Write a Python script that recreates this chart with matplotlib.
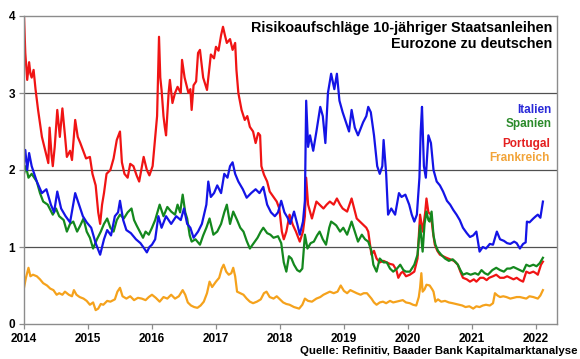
import matplotlib
matplotlib.use("Agg")
import matplotlib.pyplot as plt
import numpy as np

plt.rcParams['font.family'] = ['Liberation Sans', 'DejaVu Sans']
plt.rcParams['font.weight'] = 'bold'

# spread over german bunds, (decimal year, percentage points)
italien = [
    (2014.00, 2.10), (2014.02, 2.26), (2014.05, 2.00), (2014.08, 2.22), (2014.12, 2.05),
    (2014.20, 1.85), (2014.28, 1.70), (2014.35, 1.75), (2014.42, 1.55), (2014.47, 1.45),
    (2014.52, 1.72), (2014.58, 1.50), (2014.65, 1.40), (2014.72, 1.32), (2014.80, 1.70),
    (2014.86, 1.55), (2014.92, 1.40), (2014.98, 1.32), (2015.05, 1.25), (2015.12, 1.05),
    (2015.19, 0.90), (2015.25, 1.10), (2015.30, 1.22), (2015.36, 1.15), (2015.42, 1.40),
    (2015.47, 1.45), (2015.50, 1.60), (2015.55, 1.35), (2015.60, 1.22), (2015.67, 1.18),
    (2015.75, 1.10), (2015.82, 1.05), (2015.88, 0.98), (2015.92, 0.93), (2015.96, 1.00),
    (2016.00, 1.03), (2016.05, 1.10), (2016.10, 1.40), (2016.15, 1.25), (2016.22, 1.40),
    (2016.30, 1.30), (2016.38, 1.40), (2016.45, 1.35), (2016.50, 1.50), (2016.55, 1.30),
    (2016.60, 1.25), (2016.65, 1.12), (2016.72, 1.20), (2016.78, 1.30), (2016.85, 1.55),
    (2016.88, 1.85), (2016.92, 1.65), (2016.97, 1.70), (2017.02, 1.80), (2017.08, 1.70),
    (2017.13, 1.95), (2017.18, 1.90), (2017.22, 2.05), (2017.26, 2.10), (2017.30, 1.95),
    (2017.35, 1.85), (2017.42, 1.75), (2017.48, 1.64), (2017.55, 1.70), (2017.62, 1.75),
    (2017.68, 1.70), (2017.74, 1.78), (2017.80, 1.55), (2017.86, 1.45), (2017.92, 1.40),
    (2017.97, 1.45), (2018.02, 1.60), (2018.07, 1.45), (2018.12, 1.38), (2018.16, 1.30),
    (2018.22, 1.46), (2018.27, 1.30), (2018.31, 1.16), (2018.36, 1.33), (2018.39, 1.60),
    (2018.41, 2.90), (2018.44, 2.30), (2018.47, 2.45), (2018.52, 2.25), (2018.57, 2.50),
    (2018.63, 2.82), (2018.67, 2.70), (2018.71, 2.35), (2018.75, 3.00), (2018.80, 3.25),
    (2018.85, 3.05), (2018.89, 3.25), (2018.93, 2.90), (2018.98, 2.75), (2019.04, 2.60),
    (2019.08, 2.50), (2019.12, 2.78), (2019.17, 2.55), (2019.22, 2.45), (2019.30, 2.62),
    (2019.35, 2.70), (2019.38, 2.82), (2019.42, 2.75), (2019.47, 2.45), (2019.52, 2.05),
    (2019.56, 1.95), (2019.60, 2.05), (2019.62, 2.39), (2019.66, 1.95), (2019.69, 1.42),
    (2019.74, 1.50), (2019.80, 1.42), (2019.86, 1.70), (2019.90, 1.65), (2019.96, 1.68),
    (2020.02, 1.55), (2020.06, 1.42), (2020.10, 1.33), (2020.14, 1.42), (2020.18, 1.90),
    (2020.20, 2.50), (2020.22, 2.82), (2020.25, 2.05), (2020.28, 1.90), (2020.32, 2.45),
    (2020.36, 2.35), (2020.40, 2.00), (2020.45, 1.85), (2020.50, 1.80), (2020.55, 1.72),
    (2020.61, 1.60), (2020.66, 1.55), (2020.71, 1.48), (2020.76, 1.42), (2020.81, 1.35),
    (2020.86, 1.25), (2020.92, 1.18), (2020.97, 1.13), (2021.02, 1.15), (2021.07, 1.20),
    (2021.12, 0.94), (2021.17, 1.00), (2021.22, 0.98), (2021.28, 1.04), (2021.33, 1.03),
    (2021.39, 1.20), (2021.44, 1.10), (2021.50, 1.08), (2021.55, 1.05), (2021.60, 1.04),
    (2021.66, 1.07), (2021.70, 1.05), (2021.75, 0.98), (2021.80, 1.04), (2021.84, 1.06),
    (2021.86, 1.33), (2021.90, 1.32), (2021.96, 1.37), (2022.00, 1.40), (2022.03, 1.42),
    (2022.07, 1.38), (2022.11, 1.59),
]

spanien = [
    (2014.00, 1.95), (2014.03, 2.05), (2014.07, 1.90), (2014.12, 1.95), (2014.20, 1.85),
    (2014.25, 1.70), (2014.30, 1.59), (2014.37, 1.55), (2014.45, 1.42), (2014.50, 1.50),
    (2014.55, 1.40), (2014.62, 1.35), (2014.67, 1.20), (2014.72, 1.30), (2014.77, 1.33),
    (2014.83, 1.20), (2014.88, 1.28), (2014.93, 1.37), (2014.98, 1.20), (2015.03, 1.12),
    (2015.08, 0.98), (2015.14, 1.10), (2015.20, 1.20), (2015.25, 1.30), (2015.30, 1.37),
    (2015.35, 1.25), (2015.40, 1.20), (2015.45, 1.35), (2015.50, 1.42), (2015.56, 1.37),
    (2015.62, 1.45), (2015.68, 1.50), (2015.72, 1.35), (2015.76, 1.28), (2015.81, 1.20),
    (2015.86, 1.12), (2015.90, 1.20), (2015.95, 1.16), (2016.00, 1.25), (2016.05, 1.35),
    (2016.12, 1.55), (2016.18, 1.40), (2016.24, 1.52), (2016.30, 1.46), (2016.36, 1.42),
    (2016.40, 1.55), (2016.44, 1.45), (2016.48, 1.68), (2016.52, 1.45), (2016.55, 1.37),
    (2016.59, 1.15), (2016.62, 1.07), (2016.68, 1.10), (2016.75, 1.03), (2016.80, 1.15),
    (2016.85, 1.25), (2016.90, 1.37), (2016.96, 1.16), (2017.02, 1.20), (2017.08, 1.30),
    (2017.13, 1.45), (2017.17, 1.55), (2017.22, 1.30), (2017.27, 1.46), (2017.33, 1.35),
    (2017.38, 1.25), (2017.43, 1.20), (2017.48, 1.08), (2017.53, 0.98), (2017.59, 1.05),
    (2017.65, 1.12), (2017.70, 1.20), (2017.74, 1.25), (2017.80, 1.18), (2017.85, 1.16),
    (2017.90, 1.12), (2017.97, 1.14), (2018.02, 1.05), (2018.06, 0.80), (2018.10, 0.68),
    (2018.14, 0.88), (2018.18, 0.85), (2018.22, 0.77), (2018.27, 0.70), (2018.31, 0.68),
    (2018.35, 0.72), (2018.39, 1.16), (2018.43, 0.98), (2018.48, 1.05), (2018.53, 1.07),
    (2018.58, 1.15), (2018.62, 1.20), (2018.67, 1.10), (2018.72, 1.03), (2018.77, 1.25),
    (2018.80, 1.33), (2018.85, 1.30), (2018.88, 1.28), (2018.94, 1.20), (2018.99, 1.25),
    (2019.05, 1.16), (2019.12, 1.33), (2019.17, 1.20), (2019.22, 1.07), (2019.28, 1.16),
    (2019.33, 1.10), (2019.38, 1.07), (2019.43, 0.95), (2019.46, 0.77), (2019.51, 0.68),
    (2019.56, 0.85), (2019.62, 0.80), (2019.67, 0.80), (2019.72, 0.72), (2019.77, 0.68),
    (2019.83, 0.72), (2019.88, 0.77), (2019.93, 0.70), (2019.97, 0.68), (2020.03, 0.68),
    (2020.10, 0.77), (2020.15, 0.90), (2020.19, 1.28), (2020.23, 0.94), (2020.26, 1.30),
    (2020.29, 1.46), (2020.32, 1.35), (2020.34, 1.33), (2020.37, 1.46), (2020.40, 1.15),
    (2020.43, 1.03), (2020.47, 0.95), (2020.52, 0.90), (2020.58, 0.85), (2020.64, 0.82),
    (2020.70, 0.84), (2020.75, 0.80), (2020.78, 0.77), (2020.82, 0.70), (2020.86, 0.64),
    (2020.92, 0.66), (2020.98, 0.64), (2021.05, 0.66), (2021.10, 0.64), (2021.15, 0.70),
    (2021.20, 0.66), (2021.25, 0.64), (2021.32, 0.70), (2021.38, 0.73), (2021.44, 0.70),
    (2021.50, 0.68), (2021.55, 0.72), (2021.60, 0.72), (2021.65, 0.74), (2021.70, 0.72),
    (2021.75, 0.70), (2021.80, 0.68), (2021.85, 0.77), (2021.90, 0.75), (2021.96, 0.77),
    (2022.01, 0.75), (2022.06, 0.79), (2022.11, 0.86),
]

portugal = [
    (2014.00, 4.00), (2014.02, 3.52), (2014.05, 3.17), (2014.08, 3.40), (2014.10, 3.25),
    (2014.12, 3.20), (2014.15, 3.30), (2014.18, 3.05), (2014.22, 2.78), (2014.28, 2.43),
    (2014.33, 2.26), (2014.38, 2.09), (2014.40, 2.55), (2014.43, 2.20), (2014.45, 2.05),
    (2014.48, 2.30), (2014.52, 2.78), (2014.56, 2.43), (2014.60, 2.80), (2014.64, 2.45),
    (2014.67, 2.17), (2014.72, 2.25), (2014.75, 2.13), (2014.80, 2.65), (2014.84, 2.43),
    (2014.88, 2.35), (2014.92, 2.26), (2014.97, 2.15), (2015.03, 2.17), (2015.07, 1.95),
    (2015.12, 1.80), (2015.16, 1.45), (2015.19, 1.30), (2015.22, 1.55), (2015.25, 1.70),
    (2015.29, 1.95), (2015.35, 2.00), (2015.40, 2.15), (2015.45, 2.39), (2015.50, 2.50),
    (2015.53, 2.10), (2015.57, 1.95), (2015.62, 1.90), (2015.66, 2.08), (2015.71, 2.05),
    (2015.76, 1.93), (2015.80, 1.85), (2015.87, 2.17), (2015.92, 2.00), (2015.96, 1.93),
    (2016.01, 2.05), (2016.05, 2.43), (2016.08, 2.70), (2016.11, 3.73), (2016.13, 3.20),
    (2016.15, 3.04), (2016.18, 2.70), (2016.20, 2.56), (2016.22, 2.45), (2016.26, 3.00),
    (2016.28, 3.17), (2016.32, 2.87), (2016.36, 3.00), (2016.40, 3.08), (2016.45, 3.00),
    (2016.47, 3.43), (2016.51, 3.20), (2016.57, 3.00), (2016.60, 3.05), (2016.62, 2.78),
    (2016.65, 3.10), (2016.69, 3.15), (2016.72, 3.52), (2016.75, 3.56), (2016.80, 3.20),
    (2016.86, 3.04), (2016.90, 3.35), (2016.92, 3.50), (2016.97, 3.45), (2017.00, 3.60),
    (2017.04, 3.55), (2017.08, 3.75), (2017.11, 3.86), (2017.14, 3.75), (2017.17, 3.65),
    (2017.22, 3.70), (2017.26, 3.56), (2017.30, 3.65), (2017.32, 3.30), (2017.35, 3.00),
    (2017.40, 2.78), (2017.45, 2.65), (2017.49, 2.70), (2017.53, 2.56), (2017.58, 2.50),
    (2017.62, 2.35), (2017.66, 2.48), (2017.69, 2.45), (2017.71, 2.05), (2017.75, 1.94),
    (2017.80, 1.85), (2017.84, 1.72), (2017.90, 1.65), (2017.95, 1.59), (2017.99, 1.50),
    (2018.03, 1.20), (2018.06, 1.10), (2018.10, 1.20), (2018.15, 1.42), (2018.20, 1.29),
    (2018.25, 1.20), (2018.31, 1.07), (2018.36, 1.20), (2018.39, 1.40), (2018.41, 1.90),
    (2018.44, 1.55), (2018.50, 1.37), (2018.57, 1.59), (2018.62, 1.55), (2018.68, 1.50),
    (2018.73, 1.55), (2018.78, 1.59), (2018.84, 1.55), (2018.89, 1.63), (2018.94, 1.55),
    (2018.98, 1.50), (2019.05, 1.46), (2019.12, 1.63), (2019.16, 1.50), (2019.20, 1.37),
    (2019.25, 1.33), (2019.30, 1.29), (2019.35, 1.25), (2019.38, 1.20), (2019.43, 0.90),
    (2019.47, 0.95), (2019.51, 0.85), (2019.56, 0.80), (2019.62, 0.82), (2019.67, 0.80),
    (2019.72, 0.78), (2019.77, 0.77), (2019.82, 0.70), (2019.85, 0.60), (2019.89, 0.66),
    (2019.92, 0.68), (2019.97, 0.62), (2020.03, 0.64), (2020.10, 0.68), (2020.15, 0.85),
    (2020.19, 1.42), (2020.23, 1.20), (2020.27, 1.45), (2020.29, 1.63), (2020.32, 1.45),
    (2020.36, 1.42), (2020.39, 1.20), (2020.42, 1.03), (2020.46, 0.95), (2020.50, 0.90),
    (2020.55, 0.88), (2020.60, 0.86), (2020.66, 0.84), (2020.72, 0.82), (2020.78, 0.77),
    (2020.82, 0.68), (2020.86, 0.60), (2020.92, 0.58), (2020.97, 0.55), (2021.03, 0.58),
    (2021.07, 0.55), (2021.13, 0.60), (2021.18, 0.60), (2021.23, 0.57), (2021.27, 0.60),
    (2021.33, 0.62), (2021.38, 0.64), (2021.44, 0.60), (2021.50, 0.60), (2021.55, 0.62),
    (2021.60, 0.60), (2021.65, 0.58), (2021.70, 0.60), (2021.75, 0.57), (2021.80, 0.55),
    (2021.85, 0.68), (2021.90, 0.66), (2021.96, 0.68), (2022.00, 0.66), (2022.03, 0.64),
    (2022.08, 0.77), (2022.11, 0.81),
]

frankreich = [
    (2014.00, 0.47), (2014.03, 0.60), (2014.07, 0.73), (2014.10, 0.62), (2014.14, 0.64),
    (2014.20, 0.62), (2014.25, 0.58), (2014.30, 0.53), (2014.36, 0.50), (2014.41, 0.46),
    (2014.46, 0.44), (2014.51, 0.38), (2014.55, 0.40), (2014.60, 0.38), (2014.64, 0.42),
    (2014.70, 0.38), (2014.75, 0.36), (2014.78, 0.44), (2014.82, 0.38), (2014.87, 0.35),
    (2014.93, 0.33), (2014.98, 0.30), (2015.03, 0.25), (2015.08, 0.28), (2015.12, 0.18),
    (2015.16, 0.20), (2015.20, 0.26), (2015.24, 0.25), (2015.30, 0.30), (2015.35, 0.29),
    (2015.42, 0.32), (2015.46, 0.42), (2015.50, 0.47), (2015.54, 0.36), (2015.60, 0.33),
    (2015.66, 0.36), (2015.72, 0.31), (2015.78, 0.34), (2015.84, 0.33), (2015.90, 0.31),
    (2015.95, 0.35), (2016.00, 0.38), (2016.06, 0.34), (2016.12, 0.29), (2016.18, 0.35),
    (2016.24, 0.33), (2016.30, 0.38), (2016.36, 0.33), (2016.42, 0.36), (2016.48, 0.44),
    (2016.52, 0.38), (2016.56, 0.28), (2016.61, 0.24), (2016.66, 0.22), (2016.71, 0.21),
    (2016.76, 0.24), (2016.81, 0.29), (2016.86, 0.40), (2016.90, 0.55), (2016.94, 0.48),
    (2017.00, 0.55), (2017.05, 0.60), (2017.09, 0.72), (2017.12, 0.77), (2017.16, 0.68),
    (2017.20, 0.64), (2017.24, 0.66), (2017.27, 0.73), (2017.30, 0.62), (2017.33, 0.42),
    (2017.38, 0.40), (2017.43, 0.38), (2017.48, 0.33), (2017.53, 0.29), (2017.58, 0.27),
    (2017.64, 0.29), (2017.70, 0.32), (2017.75, 0.40), (2017.79, 0.42), (2017.84, 0.35),
    (2017.90, 0.33), (2017.95, 0.36), (2018.00, 0.32), (2018.05, 0.28), (2018.10, 0.26),
    (2018.15, 0.25), (2018.22, 0.22), (2018.30, 0.20), (2018.35, 0.25), (2018.39, 0.33),
    (2018.44, 0.30), (2018.50, 0.29), (2018.57, 0.33), (2018.63, 0.35), (2018.68, 0.38),
    (2018.73, 0.40), (2018.78, 0.42), (2018.84, 0.40), (2018.90, 0.42), (2018.95, 0.50),
    (2019.00, 0.43), (2019.05, 0.40), (2019.10, 0.44), (2019.15, 0.42), (2019.20, 0.40),
    (2019.26, 0.38), (2019.31, 0.40), (2019.36, 0.40), (2019.40, 0.36), (2019.43, 0.33),
    (2019.47, 0.28), (2019.51, 0.25), (2019.56, 0.28), (2019.61, 0.29), (2019.66, 0.27),
    (2019.72, 0.30), (2019.77, 0.28), (2019.82, 0.29), (2019.87, 0.30), (2019.92, 0.31),
    (2019.97, 0.28), (2020.03, 0.27), (2020.08, 0.25), (2020.13, 0.24), (2020.17, 0.35),
    (2020.19, 0.47), (2020.21, 0.66), (2020.23, 0.42), (2020.26, 0.45), (2020.29, 0.51),
    (2020.34, 0.50), (2020.38, 0.45), (2020.40, 0.42), (2020.43, 0.29), (2020.47, 0.32),
    (2020.52, 0.29), (2020.58, 0.30), (2020.64, 0.28), (2020.70, 0.27), (2020.75, 0.26),
    (2020.80, 0.25), (2020.85, 0.24), (2020.90, 0.22), (2020.96, 0.23), (2021.02, 0.20),
    (2021.07, 0.23), (2021.12, 0.22), (2021.17, 0.24), (2021.22, 0.25), (2021.28, 0.24),
    (2021.33, 0.27), (2021.36, 0.40), (2021.40, 0.37), (2021.44, 0.35), (2021.49, 0.36),
    (2021.54, 0.35), (2021.60, 0.33), (2021.65, 0.34), (2021.70, 0.35), (2021.75, 0.35),
    (2021.80, 0.34), (2021.85, 0.33), (2021.90, 0.36), (2021.96, 0.35), (2022.03, 0.33),
    (2022.07, 0.37), (2022.11, 0.44),
]

years = [2014, 2015, 2016, 2017, 2018, 2019, 2020, 2021, 2022]
yticks = [0, 1, 2, 3, 4]

# draw order: portugal at the back, france on top
series = [
    ("Portugal", portugal, "#f01414"),
    ("Spanien", spanien, "#14881e"),
    ("Italien", italien, "#1414e6"),
    ("Frankreich", frankreich, "#f5a21c"),
]
label_colors = {"Italien": "#2a2ad8", "Spanien": "#2a8a2a",
                "Portugal": "#e42020", "Frankreich": "#f2a43a"}

fig = plt.figure(figsize=(5.8, 3.59), dpi=100)
ax = fig.add_axes([24 / 580, 35 / 359, 533 / 580, 308 / 359])

for name, data, col in series:
    arr = np.array(data)
    ax.plot(arr[:, 0], arr[:, 1], color=col, lw=1.6, solid_joinstyle='round')

ax.set_xlim(2014, 2022.33)
ax.set_ylim(0, 4)
ax.set_xticks(years)
ax.set_xticklabels([str(y) for y in years])
ax.set_yticks(yticks)
ax.set_yticklabels([str(y) for y in yticks])

for y in [1, 2, 3]:
    ax.axhline(y, color="#505050", lw=0.9, zorder=0)

for s in ax.spines.values():
    s.set_color("#8c8c8c")
    s.set_linewidth(1.0)

ax.tick_params(axis='both', labelsize=8.5, color="#8c8c8c", length=3.5, width=0.9)
ax.tick_params(axis='x', pad=3)
ax.tick_params(axis='y', pad=3)
for lab in ax.get_xticklabels() + ax.get_yticklabels():
    lab.set_fontweight('bold')

# title, top right inside the plot
fig.text(552 / 580, 1 - 21 / 359, "Risikoaufschläge 10-jähriger Staatsanleihen\nEurozone zu deutschen",
         ha='right', va='top', fontsize=10.4, fontweight='bold', linespacing=1.2)

# coloured names in place of a legend
name_y = {"Italien": 110, "Spanien": 124, "Portugal": 144, "Frankreich": 158}
name_x = {"Italien": 552, "Spanien": 552, "Portugal": 550, "Frankreich": 550}
for name in ["Italien", "Spanien", "Portugal", "Frankreich"]:
    fig.text(name_x[name] / 580, 1 - name_y[name] / 359, name, ha='right', va='center',
             fontsize=8.5, fontweight='bold', color=label_colors[name])

fig.text(577 / 580, 1 - 351 / 359, "Quelle: Refinitiv, Baader Bank Kapitalmarktanalyse",
         ha='right', va='center', fontsize=8.2, fontweight='bold')

fig.savefig("out.png", dpi=100)
